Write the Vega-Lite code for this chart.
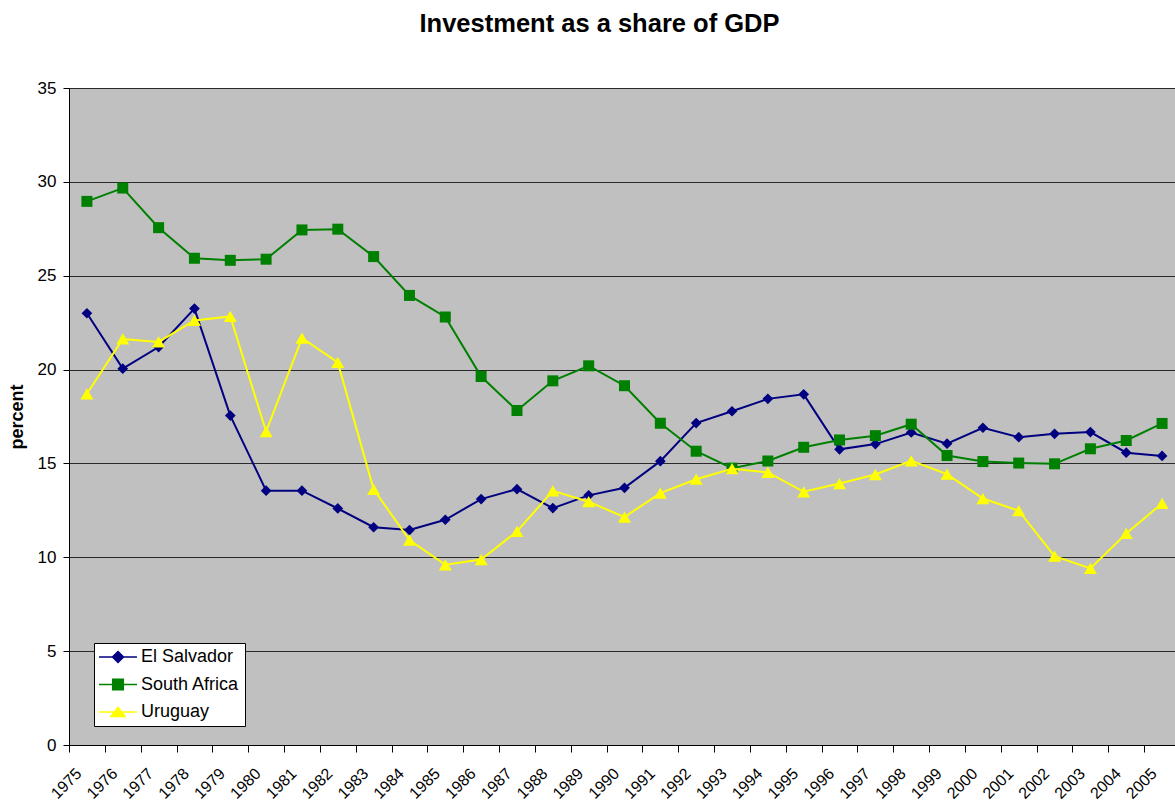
{
  "$schema": "https://vega.github.io/schema/vega-lite/v6.json",
  "width": 1111,
  "height": 657,
  "autosize": {"type": "none"},
  "padding": {"left": 69, "top": 88, "right": 0, "bottom": 59},
  "background": "white",
  "title": {
    "text": "Investment as a share of GDP",
    "fontSize": 25.5,
    "font": "Liberation Sans",
    "fontWeight": "bold",
    "color": "black",
    "anchor": "middle",
    "frame": "group",
    "dx": -25,
    "offset": 42
  },
  "config": {
    "font": "Liberation Sans",
    "view": {"fill": "#C0C0C0", "stroke": "#555555"},
    "axis": {
      "labelFont": "Liberation Sans",
      "labelColor": "black",
      "titleFont": "Liberation Sans",
      "titleColor": "black",
      "domainColor": "black",
      "tickColor": "black"
    }
  },
  "data": {
    "values": [
      {"year": "1975", "country": "El Salvador", "value": 23.0},
      {"year": "1976", "country": "El Salvador", "value": 20.05},
      {"year": "1977", "country": "El Salvador", "value": 21.2},
      {"year": "1978", "country": "El Salvador", "value": 23.25},
      {"year": "1979", "country": "El Salvador", "value": 17.55},
      {"year": "1980", "country": "El Salvador", "value": 13.55},
      {"year": "1981", "country": "El Salvador", "value": 13.55},
      {"year": "1982", "country": "El Salvador", "value": 12.6},
      {"year": "1983", "country": "El Salvador", "value": 11.6},
      {"year": "1984", "country": "El Salvador", "value": 11.45},
      {"year": "1985", "country": "El Salvador", "value": 12.0},
      {"year": "1986", "country": "El Salvador", "value": 13.1},
      {"year": "1987", "country": "El Salvador", "value": 13.63},
      {"year": "1988", "country": "El Salvador", "value": 12.62},
      {"year": "1989", "country": "El Salvador", "value": 13.3},
      {"year": "1990", "country": "El Salvador", "value": 13.7},
      {"year": "1991", "country": "El Salvador", "value": 15.12},
      {"year": "1992", "country": "El Salvador", "value": 17.15},
      {"year": "1993", "country": "El Salvador", "value": 17.78},
      {"year": "1994", "country": "El Salvador", "value": 18.44},
      {"year": "1995", "country": "El Salvador", "value": 18.68},
      {"year": "1996", "country": "El Salvador", "value": 15.75},
      {"year": "1997", "country": "El Salvador", "value": 16.03},
      {"year": "1998", "country": "El Salvador", "value": 16.65},
      {"year": "1999", "country": "El Salvador", "value": 16.05},
      {"year": "2000", "country": "El Salvador", "value": 16.9},
      {"year": "2001", "country": "El Salvador", "value": 16.4},
      {"year": "2002", "country": "El Salvador", "value": 16.58},
      {"year": "2003", "country": "El Salvador", "value": 16.67},
      {"year": "2004", "country": "El Salvador", "value": 15.57},
      {"year": "2005", "country": "El Salvador", "value": 15.4},
      {"year": "1975", "country": "South Africa", "value": 28.96},
      {"year": "1976", "country": "South Africa", "value": 29.67},
      {"year": "1977", "country": "South Africa", "value": 27.56},
      {"year": "1978", "country": "South Africa", "value": 25.93},
      {"year": "1979", "country": "South Africa", "value": 25.82},
      {"year": "1980", "country": "South Africa", "value": 25.88},
      {"year": "1981", "country": "South Africa", "value": 27.44},
      {"year": "1982", "country": "South Africa", "value": 27.48},
      {"year": "1983", "country": "South Africa", "value": 26.02},
      {"year": "1984", "country": "South Africa", "value": 23.95},
      {"year": "1985", "country": "South Africa", "value": 22.8},
      {"year": "1986", "country": "South Africa", "value": 19.63},
      {"year": "1987", "country": "South Africa", "value": 17.82},
      {"year": "1988", "country": "South Africa", "value": 19.4},
      {"year": "1989", "country": "South Africa", "value": 20.2},
      {"year": "1990", "country": "South Africa", "value": 19.14},
      {"year": "1991", "country": "South Africa", "value": 17.14},
      {"year": "1992", "country": "South Africa", "value": 15.65},
      {"year": "1993", "country": "South Africa", "value": 14.75},
      {"year": "1994", "country": "South Africa", "value": 15.13},
      {"year": "1995", "country": "South Africa", "value": 15.86},
      {"year": "1996", "country": "South Africa", "value": 16.25},
      {"year": "1997", "country": "South Africa", "value": 16.48},
      {"year": "1998", "country": "South Africa", "value": 17.09},
      {"year": "1999", "country": "South Africa", "value": 15.42},
      {"year": "2000", "country": "South Africa", "value": 15.1},
      {"year": "2001", "country": "South Africa", "value": 15.02},
      {"year": "2002", "country": "South Africa", "value": 14.98},
      {"year": "2003", "country": "South Africa", "value": 15.78},
      {"year": "2004", "country": "South Africa", "value": 16.22},
      {"year": "2005", "country": "South Africa", "value": 17.13},
      {"year": "1975", "country": "Uruguay", "value": 18.71},
      {"year": "1976", "country": "Uruguay", "value": 21.63},
      {"year": "1977", "country": "Uruguay", "value": 21.47},
      {"year": "1978", "country": "Uruguay", "value": 22.62},
      {"year": "1979", "country": "Uruguay", "value": 22.83},
      {"year": "1980", "country": "Uruguay", "value": 16.7},
      {"year": "1981", "country": "Uruguay", "value": 21.68},
      {"year": "1982", "country": "Uruguay", "value": 20.38},
      {"year": "1983", "country": "Uruguay", "value": 13.62},
      {"year": "1984", "country": "Uruguay", "value": 10.92},
      {"year": "1985", "country": "Uruguay", "value": 9.6},
      {"year": "1986", "country": "Uruguay", "value": 9.88},
      {"year": "1987", "country": "Uruguay", "value": 11.38},
      {"year": "1988", "country": "Uruguay", "value": 13.54},
      {"year": "1989", "country": "Uruguay", "value": 12.96},
      {"year": "1990", "country": "Uruguay", "value": 12.14},
      {"year": "1991", "country": "Uruguay", "value": 13.42},
      {"year": "1992", "country": "Uruguay", "value": 14.16},
      {"year": "1993", "country": "Uruguay", "value": 14.72},
      {"year": "1994", "country": "Uruguay", "value": 14.52},
      {"year": "1995", "country": "Uruguay", "value": 13.49},
      {"year": "1996", "country": "Uruguay", "value": 13.93},
      {"year": "1997", "country": "Uruguay", "value": 14.41},
      {"year": "1998", "country": "Uruguay", "value": 15.14},
      {"year": "1999", "country": "Uruguay", "value": 14.43},
      {"year": "2000", "country": "Uruguay", "value": 13.13},
      {"year": "2001", "country": "Uruguay", "value": 12.48},
      {"year": "2002", "country": "Uruguay", "value": 10.06},
      {"year": "2003", "country": "Uruguay", "value": 9.41},
      {"year": "2004", "country": "Uruguay", "value": 11.27},
      {"year": "2005", "country": "Uruguay", "value": 12.87}
    ]
  },
  "encoding": {
    "x": {
      "field": "year",
      "type": "ordinal",
      "scale": {"paddingInner": 0, "paddingOuter": 0},
      "axis": {
        "title": null,
        "labelAngle": -45,
        "labelFontSize": 16,
        "labelPadding": 13,
        "labelOffset": -14,
        "tickBand": "extent",
        "tickSize": 7,
        "domainWidth": 1,
        "grid": false
      }
    },
    "y": {
      "field": "value",
      "type": "quantitative",
      "scale": {"domain": [0, 35], "nice": false},
      "axis": {
        "title": "percent",
        "titleFontSize": 18,
        "titleFontWeight": "bold",
        "titleX": -52,
        "titleY": 328.5,
        "titleAngle": -90,
        "titleAlign": "center",
        "titleBaseline": "middle",
        "values": [0, 5, 10, 15, 20, 25, 30, 35],
        "labelFontSize": 17,
        "labelPadding": 7,
        "tickSize": 6,
        "grid": true,
        "gridColor": "#2a2a2a",
        "gridWidth": 1,
        "gridOpacity": 1
      }
    },
    "color": {
      "field": "country",
      "type": "nominal",
      "scale": {
        "domain": ["El Salvador", "South Africa", "Uruguay"],
        "range": ["#000080", "#008000", "#FFFF00"]
      },
      "legend": {
        "title": null,
        "orient": "none",
        "legendX": 25,
        "legendY": 555,
        "direction": "vertical",
        "fillColor": "white",
        "strokeColor": "black",
        "padding": 5,
        "labelFontSize": 18,
        "labelFont": "Liberation Sans",
        "labelColor": "black",
        "rowPadding": 9.5,
        "symbolOffset": 10,
        "labelOffset": 14,
        "labelExpr": "datum.label + '\u00a0'",
        "encode": {
          "symbols": {
            "update": {
              "shape": {"signal": "datum.value === 'El Salvador' ? 'M-4,0H4M0,-1.16L1.16,0L0,1.16L-1.16,0Z' : datum.value === 'South Africa' ? 'M-4,0H4M-1.12,-1.12H1.12V1.12H-1.12Z' : 'M-4,0H4M0,-1L1.48,0.97H-1.48Z'"},
              "size": {"value": 90},
              "strokeWidth": {"value": 1.5},
              "opacity": {"value": 1}
            }
          }
        }
      }
    }
  },
  "layer": [
    {
      "transform": [{"filter": "datum.country === 'El Salvador'"}],
      "mark": {"type": "line", "strokeWidth": 2, "point": {"filled": true, "shape": "diamond", "size": 115, "opacity": 1}}
    },
    {
      "transform": [{"filter": "datum.country === 'South Africa'"}],
      "mark": {"type": "line", "strokeWidth": 2, "point": {"filled": true, "shape": "square", "size": 121, "opacity": 1}}
    },
    {
      "transform": [{"filter": "datum.country === 'Uruguay'"}],
      "mark": {"type": "line", "strokeWidth": 2, "point": {"filled": true, "shape": "triangle-up", "size": 169, "opacity": 1}}
    }
  ]
}
